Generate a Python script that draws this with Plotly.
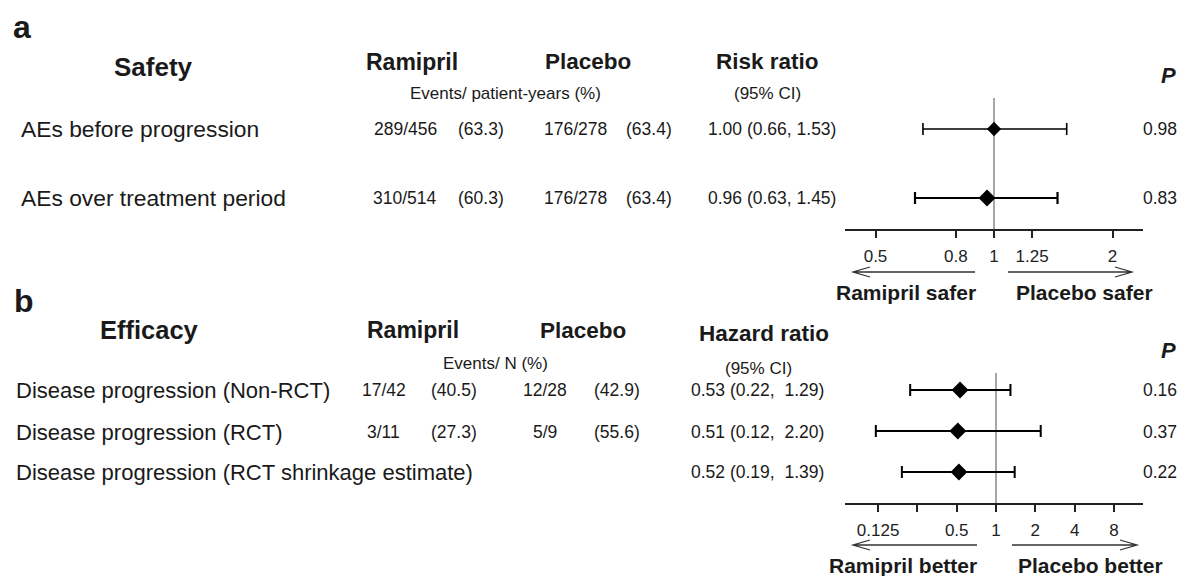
import plotly.graph_objects as go

# ---- Safety (panel a) ----
safety_outcomes = ["AEs before progression", "AEs over treatment period"]
safety_ram_events = [289, 310]
safety_ram_py = [456, 514]
safety_ram_pct = [63.3, 60.3]
safety_plc_events = [176, 176]
safety_plc_py = [278, 278]
safety_plc_pct = [63.4, 63.4]
safety_rr = [1.00, 0.96]
safety_lo = [0.66, 0.63]
safety_hi = [1.53, 1.45]
safety_p = ["0.98", "0.83"]
safety_ticks = [0.5, 0.8, 1, 1.25, 2]
safety_ticktext = ["0.5", "0.8", "1", "1.25", "2"]

# ---- Efficacy (panel b) ----
eff_outcomes = ["Disease progression (Non-RCT)", "Disease progression (RCT)",
                "Disease progression (RCT shrinkage estimate)"]
eff_ram_events = [17, 3, None]
eff_ram_n = [42, 11, None]
eff_ram_pct = [40.5, 27.3, None]
eff_plc_events = [12, 5, None]
eff_plc_n = [28, 9, None]
eff_plc_pct = [42.9, 55.6, None]
eff_hr = [0.53, 0.51, 0.52]
eff_lo = [0.22, 0.12, 0.19]
eff_hi = [1.29, 2.20, 1.39]
eff_p = ["0.16", "0.37", "0.22"]
eff_ticks = [0.125, 0.25, 0.5, 1, 2, 4, 8]
eff_ticktext = ["0.125", "", "0.5", "1", "2", "4", "8"]

W, H = 1181, 576
FONT = "Liberation Sans, Arial, Helvetica, sans-serif"
INK = "#1a1a1a"


def px(x):
    return x / W


def py(y):
    return 1 - y / H


fig = go.Figure()
annotations = []
shapes = []


def text(x, y, s, size, anchor="left", bold=False, italic=False, color=INK):
    if italic:
        s = f"<i>{s}</i>"
    if bold:
        s = f"<b>{s}</b>"
    annotations.append(dict(x=px(x), y=py(y), xref="paper", yref="paper", text=s,
                            showarrow=False, xanchor=anchor, yanchor="middle",
                            font=dict(family=FONT, size=size, color=color),
                            borderpad=0))


def arrow(x_tail, x_head, y):
    d = 1 if x_head > x_tail else -1
    path = (f"M{px(x_tail)},{py(y)} L{px(x_head)},{py(y)} "
            f"M{px(x_head - d * 17)},{py(y - 5)} L{px(x_head)},{py(y)} "
            f"L{px(x_head - d * 17)},{py(y + 5)}")
    shapes.append(dict(type="path", path=path, xref="paper", yref="paper",
                       line=dict(color="#333", width=1.3)))


def forest(rows_y, est, lo, hi, xa, ya, widths, sizes):
    for i in range(len(est)):
        fig.add_trace(go.Scatter(
            x=[est[i]], y=[rows_y[i]], mode="markers", xaxis=xa, yaxis=ya,
            marker=dict(symbol="diamond", size=sizes[i], color="black"),
            error_x=dict(type="data", symmetric=False,
                         array=[hi[i] - est[i]], arrayminus=[est[i] - lo[i]],
                         color="black", thickness=widths[i], width=6),
            hoverinfo="skip", showlegend=False))


# forest plot rows (top row has the highest y value)
ya_rows = [len(safety_rr) - 1 - i for i in range(len(safety_rr))]
yb_rows = [len(eff_hr) - 1 - i for i in range(len(eff_hr))]

forest(ya_rows, safety_rr, safety_lo, safety_hi, "x", "y", [1.6, 2.2], [11, 13])
forest(yb_rows, eff_hr, eff_lo, eff_hi, "x2", "y2", [2.0, 2.0, 2.0], [13, 13, 13])

# reference line at ratio = 1
for xr, yr in (("x", "y"), ("x2", "y2")):
    shapes.append(dict(type="line", xref=xr, yref=f"{yr} domain", x0=1, x1=1, y0=0, y1=1,
                       line=dict(color="#808080", width=1.4), layer="below"))

# ---- panel a text ----
text(12, 27, "a", 32, bold=True)
text(153, 67, "Safety", 26, anchor="center", bold=True)
text(412, 62, "Ramipril", 23, anchor="center", bold=True)
text(588, 62, "Placebo", 22.5, anchor="center", bold=True)
text(768, 62, "Risk ratio", 22.5, anchor="center", bold=True)
text(505, 93, "Events/ patient-years (%)", 17, anchor="center")
text(767, 93, "(95% CI)", 17, anchor="center")
text(1168, 75, "P", 22, anchor="center", bold=True, italic=True)

safety_y = [129, 198]
for i, yy in enumerate(safety_y):
    text(20, yy, safety_outcomes[i], 22.8)
    text(405, yy, f"{safety_ram_events[i]}/{safety_ram_py[i]}", 17.5, anchor="center")
    text(457, yy, f"({safety_ram_pct[i]:.1f})", 17.5)
    text(575, yy, f"{safety_plc_events[i]}/{safety_plc_py[i]}", 17.5, anchor="center")
    text(625, yy, f"({safety_plc_pct[i]:.1f})", 17.5)
    text(707, yy, f"{safety_rr[i]:.2f} ({safety_lo[i]:.2f}, {safety_hi[i]:.2f})", 17.5)
    text(1178, yy, safety_p[i], 17.5, anchor="right")

arrow(975, 853, 272)
arrow(1008, 1132, 272)
text(906, 292, "Ramipril safer", 21, anchor="center", bold=True)
text(1084, 292, "Placebo safer", 21, anchor="center", bold=True)

# ---- panel b text ----
text(13, 301, "b", 32, bold=True)
text(149, 330, "Efficacy", 25.5, anchor="center", bold=True)
text(413, 330, "Ramipril", 23, anchor="center", bold=True)
text(583, 330, "Placebo", 22.5, anchor="center", bold=True)
text(764, 333, "Hazard ratio", 22.5, anchor="center", bold=True)
text(495, 363, "Events/ N (%)", 17, anchor="center")
text(758, 368, "(95% CI)", 17, anchor="center")
text(1168, 350, "P", 22, anchor="center", bold=True, italic=True)

eff_y = [390, 432, 472]
for i, yy in enumerate(eff_y):
    text(15, yy, eff_outcomes[i], 22)
    if eff_ram_events[i] is not None:
        text(384, yy, f"{eff_ram_events[i]}/{eff_ram_n[i]}", 17.5, anchor="center")
        text(430, yy, f"({eff_ram_pct[i]:.1f})", 17.5)
        text(545, yy, f"{eff_plc_events[i]}/{eff_plc_n[i]}", 17.5, anchor="center")
        text(593, yy, f"({eff_plc_pct[i]:.1f})", 17.5)
    text(690, yy, f"{eff_hr[i]:.2f} ({eff_lo[i]:.2f},\u00a0 {eff_hi[i]:.2f})", 17.5)
    text(1178, yy, eff_p[i], 17.5, anchor="right")

arrow(977, 853, 545)
arrow(1012, 1137, 545)
text(903, 565, "Ramipril better", 21, anchor="center", bold=True)
text(1090, 565, "Placebo better", 21, anchor="center", bold=True)

axis_common = dict(type="log", showline=True, linecolor="#222", linewidth=1.5,
                   ticks="outside", ticklen=7, tickwidth=1.5, tickcolor="#222",
                   showgrid=False, zeroline=False, fixedrange=True,
                   tickfont=dict(family=FONT, size=17, color="#222"),
                   ticklabelstandoff=4)

fig.update_layout(
    width=W, height=H,
    margin=dict(l=0, r=0, t=0, b=0),
    paper_bgcolor="white", plot_bgcolor="rgba(0,0,0,0)",
    showlegend=False,
    xaxis=dict(domain=[px(845), px(1143)], range=[-0.3785, 0.3785], anchor="y",
               tickvals=safety_ticks, ticktext=safety_ticktext, **axis_common),
    yaxis=dict(domain=[py(229), py(98)], range=[-0.449, 1.449], visible=False,
               fixedrange=True, anchor="x"),
    xaxis2=dict(domain=[px(845), px(1143)], range=[-1.157, 1.126], anchor="y2",
                tickvals=eff_ticks, ticktext=eff_ticktext, **axis_common),
    yaxis2=dict(domain=[py(503), py(373)], range=[-0.756, 2.415], visible=False,
                fixedrange=True, anchor="x2"),
    annotations=annotations,
    shapes=shapes,
)

fig.write_html("out.html")
